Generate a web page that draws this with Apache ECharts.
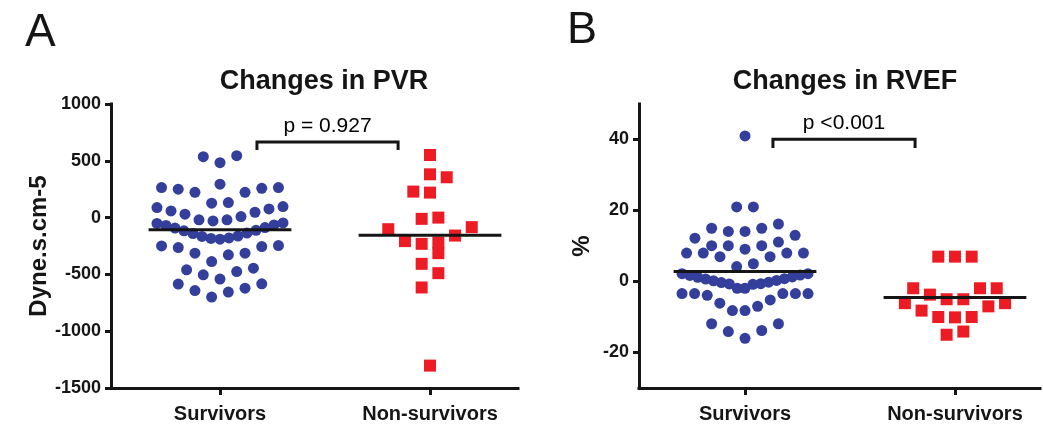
<!DOCTYPE html>
<html>
<head>
<meta charset="utf-8">
<title>Changes in PVR and RVEF</title>
<script src="https://cdn.jsdelivr.net/npm/echarts@6.0.0/dist/echarts.min.js"></script>
<style>
  html, body { margin: 0; padding: 0; background: #fff; }
  #chart { width: 1043px; height: 424px; }
</style>
</head>
<body>
<div id="chart"></div>
<script>
// ---- data ----
const CATEGORIES = ['Survivors', 'Non-survivors'];

// Change in pulmonary vascular resistance (dyne·s·cm-5)
const PVR_SURVIVORS = [
  536, 483, 545,
  264, 258, 223, 223, 250, 264, 127, 132,
  294,
  88, 59, 30, -20, -29, -20, 9, 47, 76, 97,
  -190, -183, -179, -166, -162, -140, -136, -116, -112, -92, -88, -69, -65, -51, -47,
  -249, -264, -313, -387, -328, -313, -255, -246,
  -460, -504, -541, -475, -445,
  -585, -642, -700, -656, -621, -583
];
const PVR_NONSURVIVORS = [
  551, 381, 355, 229, 220, -11, 0, -84, -158, -102,
  -220, -231, -313, -207, -407, -489, -615, -1303
];

// Change in right ventricular ejection fraction (%)
const RVEF_SURVIVORS = [
  41,
  21, 21,
  16.2, 15, 15, 14.1, 14.1,
  13.0, 12.2, 11.1, 10.1, 10.1, 10.1, 9.1,
  8, 8, 8, 8, 7, 7, 5.0, 4.2,
  2.2, 2.2, 1.8, 1.7, 1.3, 1.2, 0.8, 0.7, 0.3, 0.2, -0.2, -0.3, -0.6, -0.7, -0.8,
  -1.9, -1.9,
  -3.4, -3.4, -3.4, -3.4, -3.4,
  -3.9, -5.2, -6.1, -7.0, -8.2, -8.2,
  -16, -14.1, -13.8, -11.9, -11.9
];
const RVEF_NONSURVIVORS = [
  7, 7, 7, -1.9, -6.1, -3.7, -7.0, -10.1, -5.0, -10.0,
  -15.0, -5.0, -10.0, -14.1, -1.9, -8.2, -1.9, -6.1
];

// group means drawn as horizontal bars
const PVR_MEANS = [-106, -155];
const RVEF_MEANS = [2.8, -4.5];

// axis ticks
const PVR_TICKS = [-1500, -1000, -500, 0, 500, 1000];
const RVEF_TICKS = [-20, 0, 20, 40];

// comparison labels
const P_VALUES = ['p = 0.927', 'p <0.001'];

// ---- layout ----
const FONT = '"Liberation Sans", Arial, Helvetica, sans-serif';
const INK = '#151515';
const BLUE = '#333f9b';
const RED = '#ed1c24';

const PANELS = [
  { grid: { left: 111, top: 104, width: 407, height: 284 }, x: [0.481, 2.419], y: [-1500, 1000] },
  { grid: { left: 639, top: 104, width: 401, height: 284 }, x: [0.495, 2.405], y: [-30, 50] }
];

// brackets joining the two groups, in data units of each panel
const BRACKETS = [
  { from: 1.176, to: 1.848, top: 665, foot: 595 },
  { from: 1.133, to: 1.810, top: 40.1, foot: 37.6 }
];

const MEAN_HALF = 0.34;      // half width of the mean bar, x units
const ROW_PX = 17.2;         // vertical extent of one swarm row
const STEP_PX = 16.7;        // horizontal spacing between points in a row
const ROW_SPAN_PX = 126;     // widest a row may spread

// Column scatter layout: values are grouped into rows from the bottom up,
// each row is spread symmetrically, lowest values in the middle.
function swarm(values, center, panel) {
  const pxY = panel.grid.height / (panel.y[1] - panel.y[0]);
  const pxX = panel.grid.width / (panel.x[1] - panel.x[0]);
  const sorted = values.slice().sort((a, b) => a - b);
  const rows = [];
  let row = null;
  sorted.forEach(v => {
    if (!row || (v - row[0]) * pxY >= ROW_PX) { row = [v]; rows.push(row); }
    else row.push(v);
  });
  const pts = [];
  rows.forEach(r => {
    const n = r.length;
    const gap = n > 1 ? Math.min(STEP_PX, ROW_SPAN_PX / (n - 1)) : 0;
    r.forEach((v, i) => {
      let slot;
      if (n % 2) {
        slot = i === 0 ? 0 : (i % 2 ? -Math.ceil(i / 2) : Math.ceil(i / 2));
      } else {
        const k = Math.floor(i / 2) + 0.5;
        slot = i % 2 ? k : -k;
      }
      pts.push([center + slot * gap / pxX, v]);
    });
  });
  return pts;
}

const axisLine = { show: true, onZero: false, lineStyle: { color: INK, width: 3, cap: 'square' } };
const tickStyle = { color: INK, width: 3 };

function xAxis(i) {
  return {
    type: 'value', gridIndex: i, min: PANELS[i].x[0], max: PANELS[i].x[1],
    axisLine: axisLine,
    axisTick: { show: true, customValues: [1, 2], length: 7, lineStyle: tickStyle },
    axisLabel: {
      customValues: [1, 2], margin: 16,
      formatter: v => CATEGORIES[Math.round(v) - 1],
      fontFamily: FONT, fontSize: 20, fontWeight: 'bold', color: INK
    },
    splitLine: { show: false }
  };
}

function yAxis(i, ticks, name, nameGap) {
  return {
    type: 'value', gridIndex: i, min: PANELS[i].y[0], max: PANELS[i].y[1],
    name: name, nameLocation: 'middle', nameGap: nameGap,
    nameTextStyle: { fontFamily: FONT, fontSize: 24, fontWeight: 'bold', color: INK },
    axisLine: axisLine,
    axisTick: { show: true, customValues: ticks, length: 6, lineStyle: tickStyle },
    axisLabel: {
      customValues: ticks, margin: 10, formatter: v => String(v),
      fontFamily: FONT, fontSize: 18, fontWeight: 'bold', color: INK
    },
    splitLine: { show: false }
  };
}

function points(i, values, center, shape, size, color) {
  return {
    type: 'scatter', xAxisIndex: i, yAxisIndex: i, z: 2,
    symbol: shape, symbolSize: size,
    itemStyle: { color: color, opacity: 1 },
    data: swarm(values, center, PANELS[i])
  };
}

function meanBar(i, center, value) {
  return {
    type: 'line', xAxisIndex: i, yAxisIndex: i, z: 4, symbol: 'none',
    lineStyle: { color: INK, width: 3 },
    data: [[center - MEAN_HALF, value], [center + MEAN_HALF, value]]
  };
}

function bracket(i) {
  const b = BRACKETS[i];
  return {
    type: 'line', xAxisIndex: i, yAxisIndex: i, z: 4, symbol: 'none',
    lineStyle: { color: INK, width: 3, join: 'miter' },
    data: [[b.from, b.foot], [b.from, b.top], [b.to, b.top], [b.to, b.foot]]
  };
}

function pLabel(i) {
  const b = BRACKETS[i];
  return {
    type: 'scatter', xAxisIndex: i, yAxisIndex: i, z: 5,
    symbolSize: 1, itemStyle: { color: 'rgba(0,0,0,0)' },
    label: {
      show: true, position: 'top', distance: 5, opacity: 1,
      formatter: () => P_VALUES[i],
      fontFamily: FONT, fontSize: 21, color: '#000'
    },
    data: [[(b.from + b.to) / 2, b.top]]
  };
}

function text(str, x, y, size, weight, align) {
  return {
    type: 'text', x: x, y: y, silent: true,
    style: {
      text: str, fill: INK, textAlign: align, textVerticalAlign: 'middle',
      font: weight + ' ' + size + 'px ' + FONT
    }
  };
}

const option = {
  animation: false,
  backgroundColor: '#ffffff',
  grid: PANELS.map(p => Object.assign({ containLabel: false }, p.grid)),
  xAxis: [xAxis(0), xAxis(1)],
  yAxis: [
    yAxis(0, PVR_TICKS, 'Dyne.s.cm-5', 58),
    yAxis(1, RVEF_TICKS, '%', 45)
  ],
  series: [
    points(0, PVR_SURVIVORS, 1, 'circle', 11, BLUE),
    points(0, PVR_NONSURVIVORS, 2, 'rect', 12, RED),
    meanBar(0, 1, PVR_MEANS[0]),
    meanBar(0, 2, PVR_MEANS[1]),
    bracket(0),
    pLabel(0),
    points(1, RVEF_SURVIVORS, 1, 'circle', 11, BLUE),
    points(1, RVEF_NONSURVIVORS, 2, 'rect', 12, RED),
    meanBar(1, 1, RVEF_MEANS[0]),
    meanBar(1, 2, RVEF_MEANS[1]),
    bracket(1),
    pLabel(1)
  ],
  graphic: [
    text('A', 25, 33, 46, 'normal', 'left'),
    text('B', 567, 31, 45, 'normal', 'left'),
    text('Changes in PVR', 324, 82, 27, 'bold', 'center'),
    text('Changes in RVEF', 845, 82, 27, 'bold', 'center')
  ]
};

const chart = echarts.init(document.getElementById('chart'), null, { renderer: 'canvas' });
chart.setOption(option);
</script>
</body>
</html>
